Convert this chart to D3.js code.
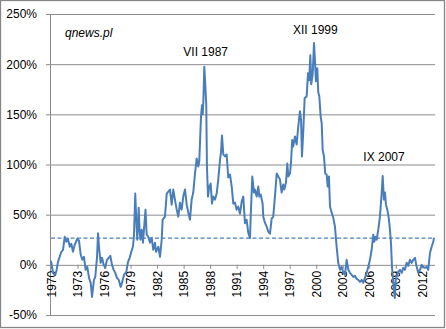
<!DOCTYPE html>
<html><head><meta charset="utf-8">
<script src="https://cdn.jsdelivr.net/npm/d3@7/dist/d3.min.js"></script>
<style>
html,body{margin:0;padding:0;background:#fff;}
svg{display:block;font-family:"Liberation Sans",Arial,sans-serif;}
</style></head>
<body>
<svg id="c" width="446" height="329"></svg>
<script>
// decimal-year positions of readings
const dates = [
1970.00,1970.23,1970.45,1970.62,1970.79,1971.17,1971.36,1971.55,1971.73,1971.92,
1972.12,1972.30,1972.49,1972.68,1972.97,1973.17,1973.36,1973.54,1973.73,1973.92,
1974.11,1974.30,1974.49,1974.64,1974.86,1975.01,1975.20,1975.32,1975.46,1975.62,
1975.77,1975.96,1976.14,1976.33,1976.53,1976.71,1976.90,1977.09,1977.27,1977.46,
1977.66,1977.88,1978.03,1978.26,1978.52,1978.71,1978.90,1979.08,1979.27,1979.39,
1979.53,1979.65,1979.76,1979.92,1980.03,1980.12,1980.26,1980.40,1980.69,1980.82,
1981.00,1981.20,1981.39,1981.57,1981.76,1981.88,1982.14,1982.33,1982.52,1982.63,
1982.89,1983.09,1983.27,1983.46,1983.65,1983.83,1984.02,1984.22,1984.40,1984.59,
1984.78,1984.96,1985.16,1985.35,1985.53,1985.72,1985.91,1986.09,1986.29,1986.48,
1986.66,1986.77,1986.97,1987.08,1987.16,1987.23,1987.34,1987.45,1987.56,1987.64,
1987.76,1987.90,1988.06,1988.21,1988.36,1988.55,1988.74,1988.92,1989.11,1989.23,
1989.34,1989.49,1989.68,1989.87,1990.05,1990.25,1990.44,1990.62,1990.81,1991.00,
1991.18,1991.38,1991.57,1991.75,1991.94,1992.13,1992.31,1992.51,1992.62,1992.77,
1992.96,1993.07,1993.26,1993.45,1993.56,1993.72,1993.94,1994.01,1994.20,1994.40,
1994.58,1994.77,1994.96,1995.14,1995.33,1995.53,1995.71,1995.90,1996.09,1996.27,
1996.39,1996.58,1996.73,1996.84,1997.03,1997.14,1997.29,1997.40,1997.60,1997.79,
1997.97,1998.16,1998.28,1998.39,1998.54,1998.69,1998.92,1999.07,1999.21,1999.33,
1999.44,1999.60,1999.75,1999.86,1999.97,2000.12,2000.23,2000.35,2000.50,2000.62,
2000.73,2000.88,2001.02,2001.18,2001.30,2001.44,2001.56,2001.75,2001.93,2002.12,
2002.31,2002.49,2002.69,2002.88,2003.06,2003.25,2003.44,2003.63,2003.82,2004.01,
2004.19,2004.38,2004.58,2004.76,2004.95,2005.14,2005.32,2005.51,2005.71,2005.89,
2006.08,2006.27,2006.45,2006.57,2006.72,2006.84,2007.02,2007.21,2007.40,2007.52,
2007.66,2007.78,2007.89,2008.04,2008.20,2008.34,2008.46,2008.57,2008.72,2008.89,
2008.99,2009.10,2009.28,2009.47,2009.67,2009.85,2010.04,2010.23,2010.41,2010.60,
2010.80,2010.98,2011.17,2011.36,2011.54,2011.74,2011.93,2012.11,2012.30,2012.49,
2012.67,2012.87,2013.06,2013.24,2013.33
];
// values in percent
const values = [
4,-8,-10,-6,3,13,15,28,23,26,
18,21,13,20,26,24,10,5,8,-5,
-2,-13,-18,-32,-15,-12,7,31.5,15,2,
7,0,-3,5,7,9,0,-5,-8,-13,
-15,-22,-18,-10,-7,3,7,13,18,30,
71,45,25,57,33,25,35,22,55,30,
28,22,27,15,22,13,18,8,25,45,
48,71,73,75,60,75,65,55,48,62,
55,68,75,60,52,45,65,72,91,106,
98,103,148,159,150,162,197.5,180,160,98,
68,78,81,61,68,65,71,85,104,112,
129,110,108,110,87,90,78,61,62,55,
58,51,63,68,41.5,45,32,26.6,55,88,
72,75,68,78,68,70,61,48,42,38,
33,31,46,48,68,91,88,85,72,80,
75,82,101,88,91,101,124.5,118,128,120,
138,153,145,108,134,166,168,191,184,209,
180,190,221,203,183,196,172,168,148,141,
114.5,108,91,90,78,88,58,52,47,38,
18,2,-5,-2,-8,-10,5,-5,-8,-10,
-12,-11,-14,-15,-17,-15,-18,-13,-8,-2,
5,15,30,23,28,25,35,48,71,88.5,
65,72,60,55,47,35,21.5,-2,-18,-33,
-15,-12,-7,-5,-8,-3,-5,2,-1,5,
2,5,7,-2,-8,-5,0,-2,-3,-2,
-5,12,18,23,27
];
const meanLevel = 26.7;
const yTicks = [-50,0,50,100,150,200,250];
const xTickYears = [1970,1973,1976,1979,1982,1985,1988,1991,1994,1997,2000,2003,2006,2009,2012];
const annotations = [
  {text:"VII 1987", year:1987.5, value:208},
  {text:"XII 1999", year:1999.9, value:230},
  {text:"IX 2007", year:2007.67, value:103}
];
const sourceLabel = "qnews.pl";

const svg = d3.select("#c");
const L = 50, R = 435;
const x = d3.scaleLinear().domain([1970, 2012]).range([51, 422.3]);
const y = d3.scaleLinear().domain([-50, 250]).range([315, 14]);
const grid = "#8c8c8c";

// outer frame
svg.append("rect").attr("x",0.5).attr("y",0.5).attr("width",444).attr("height",327)
  .attr("fill","#fff").attr("stroke","#868686").attr("stroke-width",1.3);

// y axis with gridlines
const ya = svg.append("g").attr("transform",`translate(${L},0)`)
  .call(d3.axisLeft(y).tickValues(yTicks).tickFormat(d=>d+"%").tickSizeInner(-(R-L)).tickSizeOuter(0).tickPadding(13));
ya.selectAll(".tick line").attr("stroke",grid).attr("stroke-width",1).attr("x1",-4);
ya.select(".domain").attr("stroke",grid);
ya.selectAll(".tick text").attr("font-size","12px").attr("fill","#000")
  .attr("font-family","'Liberation Sans',Arial,sans-serif");

// x axis at 0%
const xa = svg.append("g").attr("transform",`translate(0,${y(0)})`)
  .call(d3.axisBottom(x).tickValues(xTickYears).tickFormat(d3.format("d")).tickSizeInner(4).tickSizeOuter(0));
xa.select(".domain").remove();
xa.selectAll(".tick line").attr("stroke",grid);
xa.selectAll(".tick text").attr("font-size","12px").attr("fill","#000")
  .attr("font-family","'Liberation Sans',Arial,sans-serif")
  .attr("text-anchor","end").attr("transform","rotate(-90)")
  .attr("x",-6).attr("y",0).attr("dy","0.35em");

// mean dashed line
svg.append("line").attr("x1",51).attr("x2",434).attr("y1",y(meanLevel)).attr("y2",y(meanLevel))
  .attr("stroke","#4a7ebb").attr("stroke-width",1.2).attr("stroke-dasharray","4,2.5");

// data line
const pts = dates.map((d,i)=>[d, values[i]]);
svg.append("path").datum(pts)
  .attr("fill","none").attr("stroke","#4a7ebb").attr("stroke-width",2).attr("stroke-linejoin","round")
  .attr("d", d3.line().x(d=>x(d[0])).y(d=>y(d[1])));

// annotations
svg.selectAll("text.ann").data(annotations).enter().append("text").attr("class","ann")
  .attr("x",d=>x(d.year)).attr("y",d=>y(d.value)).attr("text-anchor","middle")
  .attr("font-size","12px").attr("fill","#000").text(d=>d.text);

svg.append("text").attr("x",65).attr("y",36.5).attr("font-size","12px")
  .attr("font-style","italic").attr("fill","#000").text(sourceLabel);
</script>
</body></html>
